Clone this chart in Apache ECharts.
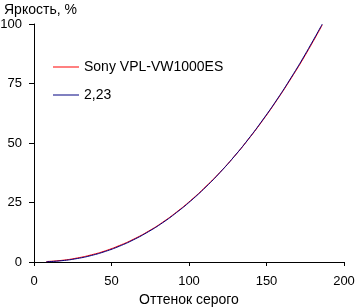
<!DOCTYPE html>
<html>
<head>
<meta charset="utf-8">
<script src="https://cdn.jsdelivr.net/npm/echarts@6/dist/echarts.min.js"></script>
<style>html,body{margin:0;padding:0;background:#fff}#c{width:355px;height:308px}</style>
</head>
<body>
<div id="c"></div>
<script>
var yTitle = 'Яркость, %';
var xTitle = 'Оттенок серого';
var seriesNames = ['Sony VPL-VW1000ES', '2,23'];
var grey = [8, 18, 28, 37, 46, 55, 64, 74, 83, 92, 101, 111, 120, 129, 138, 148, 157, 166, 175, 186];
var sony = [0.2, 0.7, 1.7, 3.0, 4.7, 6.9, 9.5, 13.0, 16.7, 21.0, 25.8, 31.8, 37.7, 44.2, 51.3, 59.9, 68.3, 77.3, 86.9, 99.6];
var gamma = [0.1, 0.55, 1.47, 2.73, 4.44, 6.61, 9.27, 12.8, 16.5, 20.8, 25.6, 31.6, 37.6, 44.2, 51.4, 60.1, 68.5, 77.6, 87.3, 100];
var xTicks = [0, 50, 100, 150, 200];
var yTicks = [0, 25, 50, 75, 100];

function pairs(xs, ys) { return xs.map(function (x, i) { return [x, ys[i]]; }); }

var font = 'Liberation Sans, Arial, sans-serif';
var chart = echarts.init(document.getElementById('c'), null, {renderer: 'canvas'});
chart.setOption({
  animation: false,
  backgroundColor: '#fff',
  title: {
    text: yTitle, left: -1, top: -2,
    textStyle: {fontFamily: font, fontSize: 14, fontWeight: 'normal', color: '#000'}
  },
  legend: {
    orient: 'vertical', left: 48, top: 55,
    icon: 'path://M0,0H26V1H0Z',
    itemWidth: 26, itemHeight: 14, itemGap: 14,
    textStyle: {fontFamily: font, fontSize: 14, color: '#000'},
    data: seriesNames
  },
  grid: {left: 34, right: 11, top: 24, bottom: 46, containLabel: false, outerBoundsMode: 'none'},
  xAxis: {
    type: 'value', min: xTicks[0], max: xTicks[xTicks.length - 1], interval: 50,
    name: xTitle, nameLocation: 'middle', nameGap: 31,
    nameTextStyle: {fontFamily: font, fontSize: 14, color: '#000'},
    axisLine: {lineStyle: {color: '#000', width: 1}},
    axisTick: {show: true, length: 4, lineStyle: {color: '#000'}},
    axisLabel: {fontFamily: font, fontSize: 13, color: '#000', margin: 13},
    splitLine: {show: false}
  },
  yAxis: {
    type: 'value', min: yTicks[0], max: yTicks[yTicks.length - 1], interval: 25,
    axisLine: {show: true, lineStyle: {color: '#000', width: 1}},
    axisTick: {show: true, length: 5, lineStyle: {color: '#000'}},
    axisLabel: {fontFamily: font, fontSize: 13, color: '#000', margin: 12},
    splitLine: {show: false}
  },
  series: [
    {name: seriesNames[0], type: 'line', symbol: 'none', smooth: true,
     lineStyle: {color: '#ff0000', width: 1}, itemStyle: {color: '#ff0000'},
     data: pairs(grey, sony)},
    {name: seriesNames[1], type: 'line', symbol: 'none', smooth: true,
     lineStyle: {color: '#000080', width: 1}, itemStyle: {color: '#000080'},
     data: pairs(grey, gamma)}
  ]
});
</script>
</body>
</html>
